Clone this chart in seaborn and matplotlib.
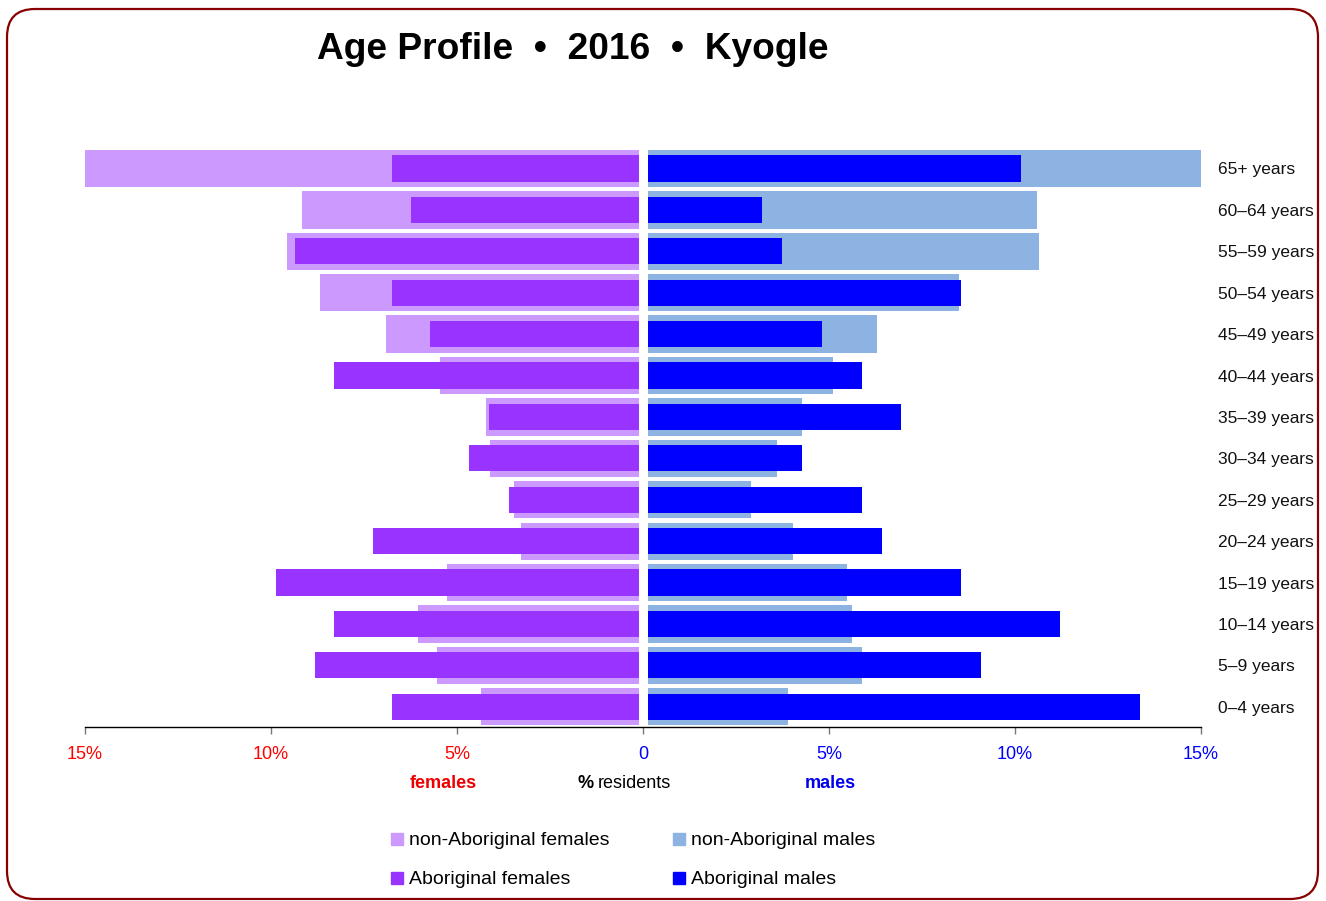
import numpy as np
import pandas as pd
import matplotlib
matplotlib.use('Agg')
import matplotlib.pyplot as plt
from matplotlib.patches import FancyBboxPatch
from matplotlib.lines import Line2D
import seaborn as sns

# age groups, top to bottom
ages = ['65+ years', '60–64 years', '55–59 years', '50–54 years', '45–49 years',
        '40–44 years', '35–39 years', '30–34 years', '25–29 years', '20–24 years',
        '15–19 years', '10–14 years', '5–9 years', '0–4 years']

# % residents
nonabo_females = [15.0, 9.17, 9.57, 8.68, 6.91, 5.46, 4.22, 4.11, 3.47, 3.28, 5.27, 6.05, 5.54, 4.35]
abo_females = [6.75, 6.24, 9.35, 6.75, 5.73, 8.31, 4.14, 4.68, 3.60, 7.26, 9.87, 8.31, 8.82, 6.75]
nonabo_males = [15.0, 10.59, 10.65, 8.49, 6.29, 5.11, 4.27, 3.60, 2.90, 4.03, 5.48, 5.62, 5.89, 3.90]
abo_males = [10.16, 3.20, 3.74, 8.55, 4.81, 5.89, 6.94, 4.27, 5.89, 6.42, 8.55, 11.21, 9.09, 13.36]

xticks = [-15, -10, -5, 0, 5, 10, 15]
xtick_labels = ['15%', '10%', '5%', '0', '5%', '10%', '15%']

col_nf = '#CC99FF'
col_af = '#9933FF'
col_nm = '#8DB3E2'
col_am = '#0000FF'

df = pd.DataFrame({'age': ages,
                   'nonabo_f': -np.array(nonabo_females),
                   'abo_f': -np.array(abo_females),
                   'nonabo_m': nonabo_males,
                   'abo_m': abo_males})

sns.set_style('white')
plt.rcParams['font.family'] = ['Liberation Sans', 'DejaVu Sans']
plt.rcParams['text.color'] = 'black'

fig = plt.figure(figsize=(13.26, 9.01), dpi=100)
ax = fig.add_axes([0.0641, 0.1926, 0.8416, 0.6434])

common = dict(y='age', orient='h', saturation=1, errorbar=None, linewidth=0, ax=ax)
sns.barplot(data=df, x='nonabo_f', color=col_nf, width=0.9, **common)
sns.barplot(data=df, x='nonabo_m', color=col_nm, width=0.9, **common)
sns.barplot(data=df, x='abo_f', color=col_af, width=0.63, **common)
sns.barplot(data=df, x='abo_m', color=col_am, width=0.63, **common)

# white gap between the two halves
ax.axvline(0, color='white', linewidth=6.5, zorder=2)

ax.set_xlim(-15, 15)
ax.set_ylim(13.5, -0.5)
ax.set_xlabel('')
ax.set_ylabel('')
ax.set_xticks(xticks)
ax.set_xticklabels(xtick_labels, fontsize=13)
for lab, v in zip(ax.get_xticklabels(), xticks):
    lab.set_color('#FF0000' if v < 0 else '#0000FF')
ax.tick_params(axis='x', length=5, width=1, color='#777777', pad=8, bottom=True)
ax.yaxis.tick_right()
ax.tick_params(axis='y', length=0, pad=12, labelsize=12.5, labelcolor='#111111')
for s in ['top', 'left', 'right']:
    ax.spines[s].set_visible(False)
ax.spines['bottom'].set_color('black')
ax.spines['bottom'].set_linewidth(1)

fig.text(0.432, 0.945, 'Age Profile  •  2016  •  Kyogle', ha='center', va='center',
         fontsize=26.7, fontweight='bold', color='black')

ty = 1 - 783 / 901
fig.text(443 / 1326, ty, 'females', color='#EE0000', fontweight='bold', fontsize=13, ha='center', va='center')
fig.text(578 / 1326, ty, '%', color='black', fontweight='bold', fontsize=13, ha='left', va='center')
fig.text(598 / 1326, ty, 'residents', color='black', fontsize=13, ha='left', va='center')
fig.text(830 / 1326, ty, 'males', color='#0000EE', fontweight='bold', fontsize=13, ha='center', va='center')

handles = [Line2D([], [], marker='s', linestyle='none', markersize=8.6, color=c)
           for c in [col_nf, col_af, col_nm, col_am]]
labels = ['non-Aboriginal females', 'Aboriginal females', 'non-Aboriginal males', 'Aboriginal males']
fig.legend(handles, labels, loc='center', bbox_to_anchor=(633 / 1326, 1 - 860 / 901), ncol=2,
           frameon=False, fontsize=14, handlelength=0.6, handletextpad=0.3,
           columnspacing=3.3, labelspacing=1.1)

border = FancyBboxPatch((7, 2), 1311, 890, boxstyle='round,pad=0,rounding_size=28',
                        transform=None, facecolor='none', edgecolor='#880000', linewidth=1.6)
fig.patches.append(border)

fig.savefig('out.png', dpi=100)
